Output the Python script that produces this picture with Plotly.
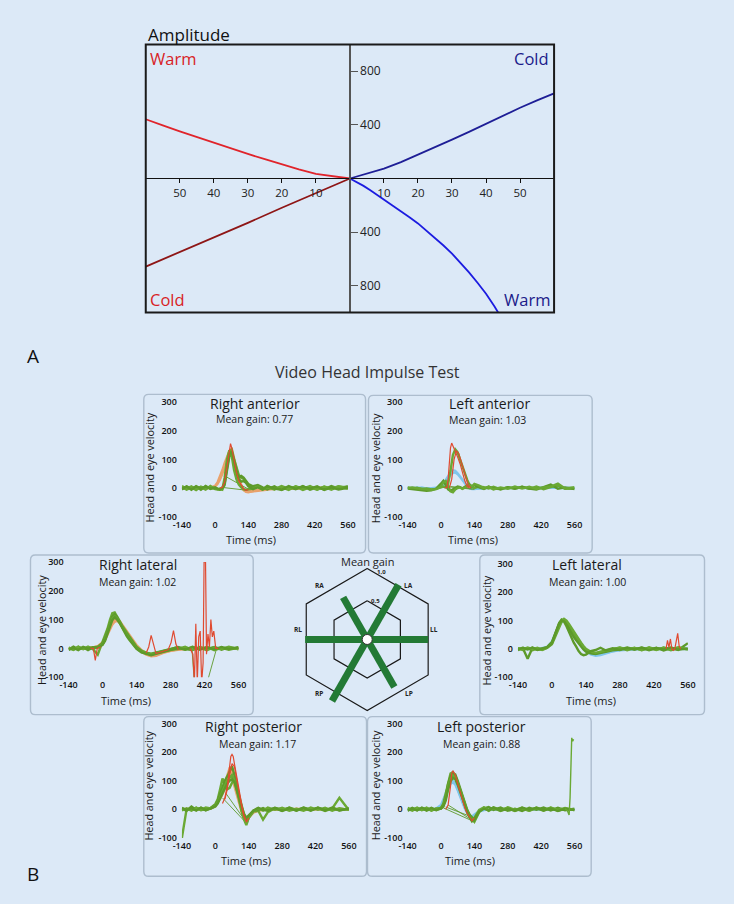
import math
import plotly.graph_objects as go

W, H = 734, 904
BG = "#dce9f7"
FONT = "Open Sans"

# ---------------- Panel A (caloric amplitude) data ----------------
A_warm_left_x = [0, -5, -10, -15, -20, -25, -30, -35, -40, -45, -50, -55, -60]
A_warm_left_y = [0, 15, 35, 68, 104, 144, 183, 224, 264, 306, 351, 396, 442]
A_cold_left_x = [0, -10, -20, -30, -40, -50, -60]
A_cold_left_y = [0, -108, -218, -331, -440, -548, -657]
A_cold_right_x = [0, 5, 10, 15, 20, 25, 30, 35, 40, 45, 50, 55, 60]
A_cold_right_y = [0, 35, 74, 122, 176, 232, 290, 348, 410, 470, 528, 583, 635]
A_warm_right_x = [0, 2, 4, 6, 8, 10, 12.5, 15, 17.5, 20, 22.5, 25, 27.5, 30, 32.5, 35, 37.5, 40, 42.5, 45]
A_warm_right_y = [0, -25, -55, -88, -122, -156, -200, -244, -289, -335, -388, -443, -500, -560, -628, -700, -778, -860, -955, -1060]
A_xtick_vals = [-50, -40, -30, -20, -10, 10, 20, 30, 40, 50]
A_xtick_text = ["50", "40", "30", "20", "10", "10", "20", "30", "40", "50"]
A_ytick_vals = [-800, -400, 400, 800]
A_ytick_text = ["800", "400", "400", "800"]

# ---------------- Panel B (vHIT) data ----------------
T = [-140, -120, -100, -80, -60, -40, -20, 0, 10, 20, 30, 40, 50, 60, 70, 80, 90, 100, 110, 120,
     130, 140, 160, 180, 200, 220, 250, 280, 310, 340, 370, 400, 430, 460, 490, 520, 560]
VHIT_xticks = [-140, 0, 140, 280, 420, 560]
VHIT_xtext = ["-140", "0", "140", "280", "420", "560"]
VHIT_yticks = [-100, 0, 100, 200, 300]
VHIT_ytext = ["-100", "0", "100", "200", "300"]

PANEL_NAMES = ["Right anterior", "Left anterior", "Right lateral", "Left lateral",
               "Right posterior", "Left posterior"]
GAINS = [0.77, 1.03, 1.02, 1.00, 1.17, 0.88]

# Right anterior
RA_head_1 = [2,-3,1,-2,3,-1,2,8,20,38,62,88,112,130,128,100,62,30,8,-6,-12,-14,-12,-9,-6,-4,-3,-1,-4,0,-3,2,-2,1,-1,2,0]
RA_head_2 = [-1,2,-2,1,-3,2,0,5,14,28,48,72,98,118,122,92,55,24,4,-8,-14,-15,-11,-8,-5,-2,-4,1,-2,2,-1,0,2,-2,1,-1,1]
RA_head_3 = [0,-2,2,-1,1,-2,1,6,16,32,55,80,106,125,140,110,72,38,12,-4,-10,-12,-10,-7,-5,-3,-1,-2,0,-3,1,-1,0,2,-1,1,-1]
RA_eye_1 = [3,-6,2,-7,5,-2,4,-3,-4,-6,-2,20,85,128,135,100,68,45,36,32,22,10,2,6,-5,7,-4,3,-7,6,-2,7,-5,4,-6,5,2]
RA_eye_2 = [-5,6,-2,5,-6,7,-3,2,-3,-5,-4,10,60,110,122,85,45,38,42,36,25,14,6,10,2,-5,6,-7,3,-4,7,-6,2,-5,7,-2,6]
RA_eye_3 = [7,-2,6,-5,2,-6,7,-4,-5,-3,-6,35,100,132,112,62,30,12,2,-4,-6,-5,-2,5,-6,2,-5,7,-2,5,-7,2,-6,5,-2,6,-3]
RA_eye_4 = [-2,5,-6,6,-2,5,-2,0,-2,-4,0,15,70,118,128,92,55,30,22,24,18,6,-4,2,-5,6,-2,-6,7,-3,5,-2,6,-7,2,-5,1]
RA_red_t = [20, 30, 40, 50, 60, 65, 70, 80, 90, 100, 110, 120, 130, 140]
RA_red_v = [0, 2, 20, 75, 135, 155, 140, 95, 55, 25, 8, -4, -8, -6]
RA_gap_t = [[30, 135], [45, 140]]
RA_gap_v = [[2, -8], [40, -4]]

# Left anterior
LA_head_1 = [1,-2,2,-1,0,-3,-2,5,15,28,42,55,62,60,52,42,30,18,8,0,-3,-4,-2,-1,1,-2,0,-1,1,0,-1,1,0,-1,0,1,0]
LA_head_2 = [-1,1,-1,2,-2,-1,0,3,10,20,32,45,52,54,48,38,26,14,5,-2,-4,-3,-2,0,-1,1,-1,0,-1,1,0,-1,1,0,1,-1,0]
LA_eye_1 = [2,-3,1,-4,-2,-5,-3,2,5,2,15,60,115,135,125,100,75,50,28,10,2,0,5,3,-2,4,-5,3,-2,4,-3,5,-4,3,8,-3,-2]
LA_eye_2 = [-2,-4,-6,-8,-10,-8,-2,15,25,10,-5,-10,-5,0,5,3,-2,4,8,12,6,10,2,-3,5,-2,-4,3,-3,4,-2,-5,3,12,-3,2,-4]
LA_eye_3 = [0,2,-1,-3,-5,-6,-4,5,20,25,8,-12,-15,-5,0,2,-3,2,6,10,5,14,8,-2,4,-5,2,-3,5,-2,4,-3,2,5,15,-2,3]
LA_red_t = [15, 25, 30, 35, 40, 45, 50, 60, 70, 80, 90, 100, 110, 120]
LA_red_v = [0, 2, 30, 90, 140, 157, 148, 128, 108, 85, 55, 25, 5, 0]
LA_red2_t = [35, 45, 55, 65, 75, 85, 95, 105, 115, 125]
LA_red2_v = [0, 30, 100, 130, 120, 95, 65, 35, 10, 0]
LA_gap_t = [[20, 140], [40, 130]]
LA_gap_v = [[5, -5], [5, -3]]

# Right lateral
RL_head_1 = [1,-2,2,-1,2,3,6,18,32,52,72,88,98,100,92,80,68,56,44,32,20,8,-10,-20,-26,-24,-14,-8,-4,-2,0,-1,1,0,-1,1,0]
RL_head_2 = [-1,1,-1,2,0,2,5,15,28,46,65,82,92,95,88,76,64,52,40,28,16,5,-12,-22,-28,-26,-16,-9,-5,-1,1,0,-1,1,0,-1,1]
RL_head_3 = [0,2,-2,1,-1,4,8,22,38,60,80,96,106,104,96,84,72,60,48,36,24,12,-5,-16,-22,-20,-12,-6,-3,0,-2,1,0,-1,1,0,-1]
RL_eye_1 = [3,-4,6,-3,4,-2,-22,20,40,68,98,122,125,112,96,80,66,54,42,30,18,6,-8,-15,-18,-14,-8,-4,4,-5,6,-2,5,-6,2,-5,3]
RL_eye_2 = [-4,6,-3,4,-6,3,6,18,36,60,88,110,118,108,92,76,62,50,38,26,14,3,-10,-17,-20,-16,-9,-3,5,-2,-6,5,-2,5,-5,4,-2]
RL_eye_3 = [2,-5,5,-2,6,-2,4,14,30,55,82,104,112,104,90,74,58,46,34,22,10,0,-12,-18,-22,-17,-10,-5,-2,6,-5,2,-6,4,-2,6,-3]
RL_eye_4 = [-5,2,-6,5,-1,4,3,12,26,50,76,98,108,100,88,72,56,42,30,18,8,-2,-14,-20,-24,-19,-12,-6,1,-4,5,-5,4,-3,5,-2,4]
RL_red_a_t = [-50, -38, -30, -22, -8]
RL_red_a_v = [0, 0, -42, 0, 5]
RL_red_b_t = [180, 190, 200, 210, 220, 270, 282, 292, 302, 312]
RL_red_b_v = [-15, 5, 45, 8, -18, -5, 20, 62, 15, -5]
RL_red_c_t = [360, 372, 378, 384, 390, 396, 402, 408, 414, 418, 424, 428, 434, 440, 446, 452, 458, 466, 476]
RL_red_c_v = [0, -20, -120, 85, -120, 40, 60, -120, -50, 300, 300, -20, 50, 5, 100, 40, 60, 0, 0]
RL_gap_t = [[368, 378], [430, 468]]
RL_gap_v = [[0, -120], [-120, -5]]

# Left lateral
LL_head_1 = [1,-1,2,-2,1,0,5,22,40,62,80,94,100,96,86,72,58,44,30,18,6,-4,-16,-22,-20,-14,-8,-4,-2,0,-1,1,0,-1,1,0,-1]
LL_head_2 = [-1,1,-1,1,-1,2,7,26,46,68,86,98,102,95,82,66,50,36,22,10,0,-8,-20,-25,-22,-16,-9,-5,-3,-1,0,-1,1,0,-1,1,0]
LL_eye_1 = [3,-4,2,-5,1,-4,4,20,42,66,86,100,104,96,82,66,50,36,24,12,2,-6,-14,-16,-12,-8,-4,4,-5,3,-4,6,-3,4,-5,3,-2]
LL_eye_2 = [-4,3,-35,4,-3,2,6,24,48,72,92,104,100,88,72,56,42,30,18,8,-2,-10,-16,-18,-14,-9,-5,-2,5,-2,5,-3,4,-6,3,-4,20]
LL_eye_3 = [2,-2,5,-1,4,-3,3,16,36,58,80,96,106,100,88,74,60,46,34,22,10,0,-10,-14,-10,-6,-2,5,-2,4,-5,3,-4,5,-2,6,-1]
LL_eye_4 = [-1,4,-2,5,-4,1,5,20,44,70,90,100,96,80,60,40,22,8,-8,-18,-22,-20,-8,-4,4,-5,2,-4,3,-2,4,-5,3,-2,5,-3,2]
LL_red_t = [470, 476, 482, 488, 494, 500, 506, 512, 518, 524, 530]
LL_red_v = [0, 30, 5, 35, 0, -5, 0, 25, 55, 10, 0]

# Right posterior
RP_head_1 = [1,-2,2,-1,2,-1,3,12,25,40,58,78,98,115,110,80,45,15,-10,-25,-30,-22,-8,-3,-1,2,-2,1,-2,1,-1,2,-1,1,-2,1,0]
RP_head_2 = [-1,2,-1,2,-2,1,2,10,22,36,52,70,88,108,140,120,80,40,5,-20,-35,-28,-10,-4,-2,1,-1,2,-1,2,0,-1,2,-2,1,-1,1]
RP_head_3 = [0,1,-2,1,-1,2,4,14,28,46,66,90,118,145,150,110,62,22,-8,-30,-40,-30,-12,-5,-2,0,1,-1,1,-1,1,-2,1,0,-1,2,-1]
RP_eye_1 = [-100,3,-2,6,-3,2,5,18,35,70,108,90,70,75,95,110,80,45,10,-20,-50,-30,-8,-5,-36,-10,4,-5,6,-2,5,-3,4,-6,3,40,-3]
RP_eye_2 = [2,-5,10,-2,5,-4,4,15,30,55,80,100,115,130,150,120,75,30,-5,-30,-45,-25,-5,-3,4,-4,5,-2,5,-5,6,-2,5,-4,6,-3,2]
RP_eye_3 = [-4,2,-5,5,-2,6,3,12,25,45,65,85,100,110,120,100,65,25,-10,-35,-55,-30,-6,4,-5,6,-2,5,-5,2,-5,6,-2,5,-5,4,-2]
RP_eye_4 = [5,-2,4,-5,6,-2,2,10,20,38,58,75,90,100,105,95,70,40,10,-15,-30,-20,-4,5,-2,-5,4,-6,3,-4,4,-5,6,-3,4,-4,3]
RP_red_t = [30, 40, 50, 60, 65, 70, 75, 80, 90, 100, 110, 120, 130, 140]
RP_red_v = [20, 40, 80, 150, 185, 192, 185, 160, 110, 60, 20, -20, -45, -30]
RP_red2_t = [40, 50, 60, 70, 80, 90, 100, 110, 120, 130]
RP_red2_v = [35, 70, 120, 160, 150, 100, 50, 10, -25, -40]
RP_gap_t = [[30, 130], [45, 125]]
RP_gap_v = [[40, -48], [55, -40]]

# Left posterior
LP_head_1 = [1,-2,1,-1,2,-1,3,15,35,58,80,96,100,92,72,48,25,5,-12,-22,-25,-18,-6,-2,0,-1,1,-1,0,1,-1,0,1,-1,0,1,0]
LP_head_2 = [-1,1,-2,2,-1,1,2,12,28,50,72,88,94,86,66,42,20,2,-14,-24,-28,-20,-8,-3,-1,0,-1,1,-1,0,1,-1,0,1,-1,0,1]
LP_eye_1 = [5,-2,6,-3,4,-5,2,5,20,55,100,125,130,118,95,70,45,20,-5,-20,-35,-44,-10,6,-3,7,-2,5,-6,2,-5,6,-2,5,-5,2,-3]
LP_eye_2 = [-4,5,-3,4,-5,3,-2,4,15,45,90,115,125,122,100,75,48,22,-2,-18,-30,-38,-6,3,8,-2,6,-5,2,-6,5,-2,6,-4,5,-3,2]
LP_eye_3 = [2,-5,4,-2,6,-4,3,2,12,38,80,105,118,112,92,66,40,15,-8,-25,-38,-30,-2,7,-5,4,-6,7,-2,5,-5,4,-5,6,-2,5,-2]
LP_eye_4 = [-5,2,-4,6,-2,5,-3,3,10,30,70,98,110,105,86,60,35,12,-10,-28,-42,-34,-8,2,-4,6,-5,2,-5,6,-2,5,-4,3,-6,2,-3]
LP_red_t = [20, 30, 40, 45, 50, 60, 70, 80, 90, 100, 110, 120, 130, 140]
LP_red_v = [0, 15, 80, 125, 135, 120, 90, 60, 30, 5, -15, -30, -40, -30]
LP_spike_t = [520, 530, 537, 541, 548, 552, 556]
LP_spike_v = [2, -5, -20, 40, 250, 238, 245]
LP_gap_t = [[10, 130], [20, 140], [30, 125]]
LP_gap_v = [[5, -40], [8, -30], [15, -35]]

# Radar (mean gain) data
RADAR_LABELS = ["RA", "LA", "RL", "LL", "RP", "LP"]
RADAR_ANGLES = [120, 60, 180, 0, 240, 300]
RADAR_LEVELS = [0.5, 1.0]
RADAR_LEVEL_TEXT = ["0,5", "1,0"]

# ---------------- helpers ----------------
def px(x):
    return x / W

def py(y):
    return 1 - y / H

RED_WARM = "#e0242b"
RED_DARK = "#8e1616"
BLUE_DARK = "#1e1e96"
BLUE_BRIGHT = "#1c1ce0"
LBL_RED = "#d81e26"
LBL_BLUE = "#1b1b8a"
GREEN = "#6aa934"
GREEN_D = "#5d9a2a"
ORANGE = "#e9a26c"
RED = "#e04a30"
LBLUE = "#80c6ec"
BAR_GREEN = "#237a35"

fig = go.Figure()
annotations = []
shapes = []
layout = {}

def line_trace(x, y, color, width, ax):
    fig.add_trace(go.Scatter(x=x, y=y, mode="lines", line=dict(color=color, width=width),
                             xaxis="x" + ax, yaxis="y" + ax, hoverinfo="skip", showlegend=False))

def text(x, y, s, size, color="#222", xanchor="center", yanchor="middle", angle=0, weight="normal"):
    annotations.append(dict(x=px(x), y=py(y), xref="paper", yref="paper", text=s, showarrow=False,
                            xanchor=xanchor, yanchor=yanchor, textangle=angle,
                            font=dict(family=FONT, size=size, color=color, weight=weight)))

# ---------------- Panel A ----------------
line_trace(A_warm_left_x, A_warm_left_y, RED_WARM, 1.8, "")
line_trace(A_cold_left_x, A_cold_left_y, RED_DARK, 1.8, "")
line_trace(A_cold_right_x, A_cold_right_y, BLUE_DARK, 1.8, "")
line_trace(A_warm_right_x, A_warm_right_y, BLUE_BRIGHT, 1.8, "")

layout["xaxis"] = dict(domain=[px(140), px(558)], range=[-60, 60], anchor="free", position=py(174),
                       showline=True, linecolor="#111", linewidth=1, ticks="outside", ticklen=4,
                       tickcolor="#111", tickvals=A_xtick_vals, ticktext=A_xtick_text,
                       tickfont=dict(family=FONT, size=11.5, color="#222"), showgrid=False,
                       zeroline=False, fixedrange=True)
layout["yaxis"] = dict(domain=[py(310), py(38)], range=[-1000, 1000], anchor="free", position=px(349),
                       side="right", showline=True, linecolor="#555", linewidth=1.5, ticks="outside",
                       ticklen=7, tickcolor="#555", tickvals=A_ytick_vals, ticktext=A_ytick_text,
                       tickfont=dict(family=FONT, size=12, color="#222"), showgrid=False,
                       zeroline=False, fixedrange=True)
shapes.append(dict(type="rect", xref="x domain", yref="y domain", x0=0, x1=1, y0=0, y1=1,
                   line=dict(color="#1a1a1a", width=2), layer="above"))

text(140, 28, "Amplitude", 17, "#111", xanchor="left")
text(142, 52.7, "Warm", 16.5, LBL_RED, xanchor="left")
text(555, 52.7, "Cold", 16.5, LBL_BLUE, xanchor="right")
text(142, 297, "Cold", 16.5, LBL_RED, xanchor="left")
text(556, 297, "Warm", 16.5, LBL_BLUE, xanchor="right")
text(25, 354, "A", 19, "#111")
text(25, 880, "B", 19, "#111")

# ---------------- Panel B ----------------
text(366.7, 370, "Video Head Impulse Test", 16, "#333")

def rbox(x0, y0, x1, y1, r=5):
    X0, X1 = px(x0), px(x1)
    Y0, Y1 = py(y0), py(y1)
    rx, ry = r / W, r / H
    return (f"M {X0+rx},{Y0} L {X1-rx},{Y0} Q {X1},{Y0} {X1},{Y0-ry} L {X1},{Y1+ry} "
            f"Q {X1},{Y1} {X1-rx},{Y1} L {X0+rx},{Y1} Q {X0},{Y1} {X0},{Y1+ry} "
            f"L {X0},{Y0-ry} Q {X0},{Y0} {X0+rx},{Y0} Z")

PANEL_GEOM = [
    # box, plot (x0, x1, ytop, ybot), title, gain, time label, y label
    dict(box=(138, 393, 365, 554), plot=(177, 347, 401, 517), title=(251.7, 402), gain=(251.7, 418.3), time=(248, 540), ylab=(144, 467.5)),
    dict(box=(368, 394, 597, 554), plot=(408, 579, 401, 517), title=(492, 402), gain=(489.5, 419), time=(474.5, 540.5), ylab=(375.3, 468.3)),
    dict(box=(22, 556, 250, 718), plot=(61, 235, 563, 680), title=(131.7, 566), gain=(131.2, 583.5), time=(120, 704), ylab=(33.3, 632.5)),
    dict(box=(482, 556, 712, 718), plot=(521, 695, 565, 680), title=(592.2, 565.5), gain=(592.5, 583.5), time=(596, 704), ylab=(488.3, 632.5)),
    dict(box=(138, 720, 366, 882), plot=(177, 348, 727, 843), title=(250.8, 730.5), gain=(254, 747.5), time=(243, 866), ylab=(143.3, 790)),
    dict(box=(367, 720, 596, 882), plot=(408, 579, 727, 843), title=(483.7, 730.5), gain=(483.3, 747.5), time=(471.7, 866), ylab=(375.3, 790)),
]

PANEL_TRACES = [
    dict(head=[RA_head_1, RA_head_2, RA_head_3], hc=ORANGE, eye=[RA_eye_1, RA_eye_2, RA_eye_3, RA_eye_4],
         red=[(RA_red_t, RA_red_v)], gaps=list(zip(RA_gap_t, RA_gap_v)), extra=[]),
    dict(head=[LA_head_1, LA_head_2], hc=LBLUE, eye=[LA_eye_1, LA_eye_2, LA_eye_3],
         red=[(LA_red_t, LA_red_v), (LA_red2_t, LA_red2_v)], gaps=list(zip(LA_gap_t, LA_gap_v)), extra=[]),
    dict(head=[RL_head_1, RL_head_2, RL_head_3], hc=ORANGE, eye=[RL_eye_1, RL_eye_2, RL_eye_3, RL_eye_4],
         red=[(RL_red_a_t, RL_red_a_v), (RL_red_b_t, RL_red_b_v), (RL_red_c_t, RL_red_c_v)],
         gaps=list(zip(RL_gap_t, RL_gap_v)), extra=[]),
    dict(head=[LL_head_1, LL_head_2], hc=LBLUE, eye=[LL_eye_1, LL_eye_2, LL_eye_3, LL_eye_4],
         red=[(LL_red_t, LL_red_v)], gaps=[], extra=[]),
    dict(head=[RP_head_1, RP_head_2, RP_head_3], hc=ORANGE, eye=[RP_eye_1, RP_eye_2, RP_eye_3, RP_eye_4],
         red=[(RP_red_t, RP_red_v), (RP_red2_t, RP_red2_v)], gaps=list(zip(RP_gap_t, RP_gap_v)), extra=[]),
    dict(head=[LP_head_1, LP_head_2], hc=LBLUE, eye=[LP_eye_1, LP_eye_2, LP_eye_3, LP_eye_4],
         red=[(LP_red_t, LP_red_v)], gaps=list(zip(LP_gap_t, LP_gap_v)), extra=[(LP_spike_t, LP_spike_v)]),
]

for i, (geom, tr) in enumerate(zip(PANEL_GEOM, PANEL_TRACES)):
    n = str(i + 2)
    shapes.append(dict(type="path", xref="paper", yref="paper", path=rbox(*geom["box"]),
                       line=dict(color="#adbdce", width=1.4), fillcolor="rgba(0,0,0,0)", layer="below"))
    x0, x1, yt, yb = geom["plot"]
    layout["xaxis" + n] = dict(domain=[px(x0), px(x1)], range=[-140, 560], anchor="y" + n,
                               tickvals=VHIT_xticks, ticktext=VHIT_xtext, ticks="", showline=False,
                               showgrid=False, zeroline=False, ticklabelstandoff=1,
                               tickfont=dict(family=FONT, size=9, color="#111", weight=600), fixedrange=True)
    layout["yaxis" + n] = dict(domain=[py(yb), py(yt)], range=[-100, 300], anchor="x" + n,
                               tickvals=VHIT_yticks, ticktext=VHIT_ytext, ticks="", showline=False,
                               showgrid=False, zeroline=False, ticklabelstandoff=4,
                               tickfont=dict(family=FONT, size=9, color="#111", weight=600), fixedrange=True)
    for h in tr["head"]:
        line_trace(T, h, tr["hc"], 2.2, n)
    for gx, gy in tr["gaps"]:
        line_trace(gx, gy, GREEN_D, 0.9, n)
    for k, e in enumerate(tr["eye"]):
        line_trace(T, e, GREEN if k % 2 == 0 else GREEN_D, 2.4, n)
    for rx, ry in tr["red"]:
        line_trace(rx, ry, RED, 1.2, n)
    for ex, ey in tr["extra"]:
        line_trace(ex, ey, GREEN, 1.4, n)
    text(*geom["title"], PANEL_NAMES[i], 14, "#1a1a1a")
    text(*geom["gain"], f"Mean gain: {GAINS[i]:.2f}", 10.5, "#1a1a1a")
    text(*geom["time"], "Time (ms)", 11, "#1a1a1a")
    text(*geom["ylab"], "Head and eye velocity", 10.8, "#1a1a1a", angle=-90)

# ---------------- Radar of mean gains ----------------
CX, CY = 366.7, 641.7
R0, APO = 5.5, 62.4

def apothem(g):
    return R0 + g * (APO - R0)

for lev in RADAR_LEVELS:
    rv = apothem(lev) / math.cos(math.radians(30))
    angs = [90, 30, -30, -90, -150, 150, 90]
    line_trace([rv * math.cos(math.radians(a)) for a in angs],
               [rv * math.sin(math.radians(a)) for a in angs], "#1a1a1a", 1.2, "8")
for g, a in zip(GAINS, RADAR_ANGLES):
    r = apothem(g)
    line_trace([0, r * math.cos(math.radians(a))], [0, r * math.sin(math.radians(a))], BAR_GREEN, 7, "8")
fig.add_trace(go.Scatter(x=[0], y=[0], mode="markers", xaxis="x8", yaxis="y8", hoverinfo="skip",
                         marker=dict(size=10, color="white", line=dict(color="#333", width=1)),
                         showlegend=False))
layout["xaxis8"] = dict(domain=[px(CX - 75), px(CX + 75)], range=[-75, 75], visible=False,
                        anchor="y8", fixedrange=True)
layout["yaxis8"] = dict(domain=[py(CY + 75), py(CY - 75)], range=[-75, 75], visible=False,
                        anchor="x8", fixedrange=True)

label_pos = {"RA": (-49, 55), "LA": (42.3, 55), "RL": (-70.7, 10), "LL": (68.3, 10),
             "RP": (-49.4, -55), "LP": (42.3, -55)}
for lab in RADAR_LABELS:
    lx, ly = label_pos[lab]
    text(CX + lx, CY - ly, lab, 6.5, "#222", weight="bold")
text(CX + 15, CY - 68.4, RADAR_LEVEL_TEXT[1], 6, "#222", weight="bold")
text(CX + 9, CY - 39.4, RADAR_LEVEL_TEXT[0], 6, "#222", weight="bold")
text(366.7, 562.7, "Mean gain", 11, "#222")

fig.update_layout(
    width=W, height=H, autosize=False,
    margin=dict(l=0, r=0, t=0, b=0),
    paper_bgcolor=BG, plot_bgcolor="rgba(0,0,0,0)",
    showlegend=False, hovermode=False,
    annotations=annotations, shapes=shapes,
    font=dict(family=FONT),
    **layout,
)
fig.write_html("out.html", config={"displayModeBar": False, "responsive": False},
               post_script="document.body.style.margin='0px';document.body.style.overflow='hidden';")
